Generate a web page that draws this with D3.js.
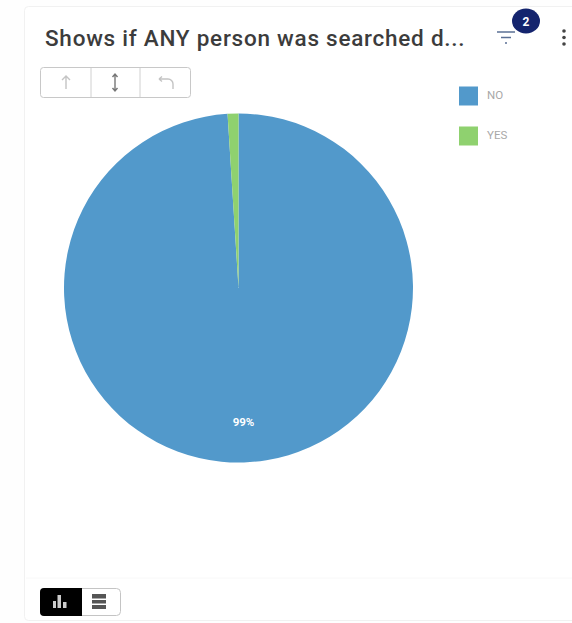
<!DOCTYPE html>
<html>
<head>
<meta charset="utf-8">
<script src="https://cdn.jsdelivr.net/npm/d3@7"></script>
<style>
html,body{margin:0;padding:0;background:#fff;overflow:hidden}
svg{display:block;font-family:Roboto,sans-serif}
</style>
</head>
<body>
<svg id="chart" width="572" height="623"></svg>
<script>
const categories = ["NO", "YES"];
const values = [99, 1];
const sliceColors = ["#5299cb", "#8fd16f"];
const titleText = "Shows if ANY person was searched d...";
const filterCount = "2";

const svg = d3.select("#chart");

// Card surface
svg.append("rect").attr("width", 572).attr("height", 623).attr("fill", "#fefefe");
svg.append("rect").attr("x", 24.5).attr("y", 6.5).attr("width", 570).attr("height", 614)
  .attr("rx", 4).attr("fill", "#fff").attr("stroke", "#f1f1f1");
svg.append("line").attr("x1", 26).attr("x2", 572).attr("y1", 578).attr("y2", 578).attr("stroke", "#f8f8f8");

// Header
svg.append("text").attr("x", 45).attr("y", 46).attr("font-size", 22.5).attr("letter-spacing", 0.75)
  .attr("font-weight", 500).attr("fill", "#3c3c3c").text(titleText);

// Filter icon with count badge
const filter = svg.append("g").attr("stroke", "#5a6f94").attr("stroke-width", 1.5);
[[497, 515, 32], [501, 511, 37.5], [505, 507, 43]].forEach(([a, b, y]) =>
  filter.append("line").attr("x1", a).attr("x2", b).attr("y1", y).attr("y2", y));
svg.append("ellipse").attr("cx", 526).attr("cy", 21).attr("rx", 14).attr("ry", 12.5).attr("fill", "#14246e");
svg.append("text").attr("x", 526).attr("y", 25.5).attr("text-anchor", "middle").attr("font-size", 12)
  .attr("font-weight", 700).attr("fill", "#fff").text(filterCount);

// Overflow menu dots
[31, 37.5, 44].forEach(y => svg.append("circle").attr("cx", 564).attr("cy", y).attr("r", 1.8).attr("fill", "#444"));

// Sort and reset button group
const btn = svg.append("g");
btn.append("rect").attr("x", 40.5).attr("y", 67.5).attr("width", 150).attr("height", 30).attr("rx", 3)
  .attr("fill", "#fff").attr("stroke", "#c8c8c8");
[91, 140].forEach(x => btn.append("line").attr("x1", x).attr("x2", x).attr("y1", 68).attr("y2", 97).attr("stroke", "#d0d0d0"));
const up = btn.append("g").attr("fill", "none").attr("stroke", "#c4c4c4").attr("stroke-width", 1.4);
up.append("path").attr("d", "M66 89V76M62 80l4-4 4 4");
const both = btn.append("g").attr("fill", "none").attr("stroke", "#777").attr("stroke-width", 1.4);
both.append("path").attr("d", "M115 74V91M112.5 77l2.5-3 2.5 3M112.5 88l2.5 3 2.5-3");
const undo = btn.append("g").attr("fill", "none").attr("stroke", "#c4c4c4").attr("stroke-width", 1.4);
undo.append("path").attr("d", "M159 79h9a5 5 0 0 1 5 5v5M159 79l3-2.5M159 79l3 2.5");

// Pie
const cx = 238.5, cy = 288, radius = 174.5;
const color = d3.scaleOrdinal().domain(categories).range(sliceColors);
const pie = d3.pie().sort(null)(values);
const arc = d3.arc().innerRadius(0).outerRadius(radius);
const plot = svg.append("g").attr("transform", `translate(${cx},${cy})`);
plot.selectAll("path").data(pie).join("path")
  .attr("d", arc)
  .attr("fill", (d, i) => color(categories[i]));

// Percentage label on the dominant slice
const total = d3.sum(values);
const labelArc = d3.arc().innerRadius(radius * 0.77).outerRadius(radius * 0.77);
const [lx, ly] = labelArc.centroid({ startAngle: Math.PI, endAngle: Math.PI });
plot.append("text").attr("x", lx + 5).attr("y", ly + 4).attr("text-anchor", "middle")
  .attr("font-size", 11.5).attr("font-weight", 700).attr("fill", "#fff")
  .text(d3.format(".0%")(values[0] / total));

// Legend
const legendY = d3.scalePoint().domain(categories).range([96, 136]);
const legend = svg.append("g").selectAll("g").data(categories).join("g")
  .attr("transform", d => `translate(459,${legendY(d)})`);
legend.append("rect").attr("y", -9.5).attr("width", 19).attr("height", 19).attr("fill", d => color(d));
legend.append("text").attr("x", 28).attr("y", 3).attr("font-size", 11.5).attr("fill", "#a8a8a8").text(d => d);

// Chart and table view toggle
svg.append("rect").attr("x", 40.5).attr("y", 588.5).attr("width", 80).attr("height", 27).attr("rx", 4)
  .attr("fill", "#fff").attr("stroke", "#c4c4c4");
svg.append("path").attr("fill", "#000")
  .attr("d", "M44 588h38v28h-38a4 4 0 0 1-4-4v-20a4 4 0 0 1 4-4z");
const barsIcon = svg.append("g").attr("fill", "#ccc");
[[53, 601, 3, 7], [57.5, 595, 3.5, 13], [63, 602, 3.5, 6]].forEach(([x, y, w, h]) =>
  barsIcon.append("rect").attr("x", x).attr("y", y).attr("width", w).attr("height", h));
const tableIcon = svg.append("g").attr("fill", "#555");
[[92, 594, 14, 4.5], [92, 600, 14, 3.5], [92, 605, 14, 4]].forEach(([x, y, w, h]) =>
  tableIcon.append("rect").attr("x", x).attr("y", y).attr("width", w).attr("height", h));
</script>
</body>
</html>
